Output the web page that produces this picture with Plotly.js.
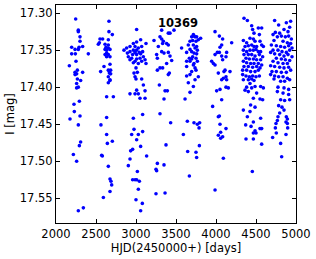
<!DOCTYPE html>
<html>
<head>
<meta charset="utf-8">
<script src="https://cdn.plot.ly/plotly-3.0.1.min.js"></script>
<style>
html,body{margin:0;padding:0;background:#fff;}
#chart{width:316px;height:259px;}
</style>
</head>
<body>
<div id="chart"></div>
<script>
// Light curve of star 10369: HJD-2450000 (days) and I magnitude, per observing season
var s1x = [2246,2279,2279,2300,2300,2196,2238,2279,2288,2333,2404,2196,2242,2250,2167,2267,2333,2238,2258,2238,2267,2308,2258,2279,2258,2292,2225,2229,2300,2175,2279,2308,2292,2217,2258,2279,2342];
var s1y = [17.308,17.323,17.325,17.332,17.338,17.346,17.349,17.349,17.346,17.345,17.355,17.355,17.355,17.365,17.371,17.377,17.380,17.380,17.382,17.383,17.389,17.391,17.395,17.400,17.401,17.419,17.423,17.433,17.439,17.443,17.451,17.474,17.479,17.491,17.500,17.567,17.563];

var s2x = [2662,2662,2704,2583,2550,2654,2542,2529,2613,2654,2625,2613,2654,2675,2633,2633,2613,2654,2633,2675,2675,2600,2654,2683,2558,2667,2667,2683,2654,2675,2675,2654,2633,2717,2633,2562,2633,2704,2642,2571,2579,2654,2675,2687,2696,2675,2592];
var s2y = [17.311,17.325,17.329,17.335,17.335,17.336,17.340,17.342,17.342,17.343,17.346,17.349,17.347,17.349,17.350,17.354,17.356,17.356,17.359,17.359,17.369,17.372,17.377,17.377,17.379,17.379,17.381,17.382,17.386,17.390,17.391,17.394,17.413,17.413,17.441,17.451,17.464,17.473,17.476,17.492,17.493,17.507,17.524,17.527,17.532,17.541,17.549];

var s3x = [3008,3058,2967,3125,3008,2883,2850,2925,2988,3029,3071,2967,3008,2892,2925,2988,3042,3083,2958,3008,3058,2904,2946,3008,3050,3092,2925,2988,3071,3113,2967,3029,3125,3000,2975,3017,2988,3000,3071,3092,3008,3113,2925,2988,3029,3050,3113,3083,2967,2975,2946,3029,3083,3008,2958,2933,3058,3133,2925,2904,3017,2958,2988,3008,3042,3029,3000,3079,3058];
var s3y = [17.322,17.336,17.341,17.341,17.339,17.347,17.350,17.345,17.345,17.347,17.345,17.350,17.350,17.354,17.352,17.353,17.353,17.352,17.356,17.356,17.355,17.359,17.361,17.362,17.361,17.359,17.363,17.365,17.365,17.363,17.367,17.368,17.368,17.374,17.381,17.380,17.386,17.389,17.389,17.397,17.404,17.405,17.409,17.409,17.409,17.415,17.415,17.437,17.442,17.457,17.464,17.464,17.460,17.471,17.484,17.486,17.480,17.493,17.497,17.506,17.514,17.525,17.525,17.525,17.527,17.538,17.552,17.557,17.567];

var s4x = [3321,3475,3425,3404,3300,3225,3321,3342,3383,3333,3404,3279,3321,3258,3350,3404,3425,3267,3446,3383,3300,3267,3333,3417,3404,3292,3363,3392,3350,3300,3433,3375,3267,3250,3258,3350,3250,3363];
var s4y = [17.323,17.323,17.327,17.327,17.332,17.337,17.335,17.338,17.341,17.341,17.343,17.345,17.352,17.356,17.354,17.353,17.358,17.361,17.364,17.368,17.374,17.377,17.374,17.381,17.383,17.397,17.405,17.405,17.416,17.436,17.448,17.478,17.503,17.511,17.513,17.505,17.544,17.543];

var s5x = [3808,3570,3717,3725,3738,3696,3758,3675,3708,3750,3779,3654,3717,3758,3675,3738,3767,3633,3696,3725,3758,3708,3667,3750,3696,3633,3675,3725,3767,3717,3633,3738,3696,3750,3633,3675,3738,3779,3654,3717,3675,3613,3642,3725,3767,3796,3788,3592,3646,3750,3758,3792,3667];
var s5y = [17.334,17.347,17.329,17.331,17.332,17.332,17.332,17.338,17.337,17.338,17.336,17.343,17.343,17.345,17.349,17.347,17.350,17.353,17.352,17.354,17.355,17.359,17.361,17.361,17.362,17.365,17.365,17.368,17.365,17.370,17.372,17.374,17.379,17.377,17.385,17.383,17.390,17.386,17.394,17.399,17.407,17.416,17.446,17.448,17.450,17.448,17.455,17.464,17.487,17.488,17.495,17.479,17.520];

var s6x = [3988,4042,4083,4196,4071,4050,4017,4042,4133,3988,4071,4083,4125,3946,3967,3988,4029,4113,4100,4175,4092,4125,4071,4133,4050,4008,4125,4154,4071,3958,4029,4042,4050,4029,4058,4083,4058,4125,4092,3988];
var s6y = [17.325,17.331,17.335,17.340,17.343,17.346,17.353,17.353,17.353,17.356,17.358,17.363,17.359,17.365,17.368,17.370,17.381,17.377,17.379,17.379,17.388,17.386,17.390,17.390,17.403,17.405,17.400,17.401,17.417,17.426,17.440,17.439,17.450,17.465,17.461,17.467,17.469,17.456,17.496,17.539];

var s7x = [4350,4392,4446,4458,4529,4571,4475,4542,4342,4383,4425,4467,4488,4550,4571,4363,4404,4446,4475,4508,4592,4342,4383,4425,4467,4500,4529,4558,4350,4404,4446,4488,4542,4583,4375,4417,4467,4508,4558,4342,4383,4433,4475,4529,4571,4350,4404,4458,4508,4550,4333,4383,4433,4488,4529,4333,4375,4417,4458,4500,4542,4342,4404,4446,4475,4425,4383,4363,4446,4488,4558,4404,4508,4592,4467,4550,4583,4433,4488,4425,4342,4392,4558,4371,4375,4438,4467,4467,4488,4500,4467,4550,4571,4571,4454];
var s7y = [17.307,17.310,17.317,17.322,17.320,17.320,17.327,17.329,17.337,17.340,17.334,17.335,17.338,17.338,17.343,17.345,17.344,17.343,17.345,17.345,17.345,17.350,17.352,17.350,17.350,17.349,17.352,17.352,17.356,17.356,17.356,17.358,17.356,17.359,17.361,17.362,17.362,17.363,17.363,17.365,17.367,17.368,17.368,17.368,17.370,17.372,17.372,17.373,17.372,17.374,17.377,17.377,17.379,17.379,17.377,17.383,17.385,17.386,17.385,17.386,17.385,17.390,17.390,17.389,17.391,17.395,17.400,17.404,17.401,17.399,17.399,17.406,17.408,17.401,17.415,17.416,17.417,17.424,17.427,17.433,17.431,17.440,17.442,17.451,17.470,17.453,17.447,17.462,17.459,17.462,17.470,17.456,17.456,17.477,17.514];

var s8x = [4733,4783,4879,4933,4850,4921,4900,4742,4796,4713,4767,4817,4867,4908,4942,4725,4838,4892,4933,4692,4754,4808,4858,4908,4950,4713,4775,4825,4879,4921,4683,4733,4796,4850,4900,4950,4754,4817,4867,4921,4713,4775,4838,4892,4683,4733,4796,4850,4908,4700,4754,4817,4879,4933,4683,4733,4783,4838,4892,4725,4808,4858,4921,4775,4850,4908,4767,4838,4908,4808,4858,4921,4783,4825,4850,4796,4775,4879,4892,4767,4708,4742,4750,4754,4808,4821,4875,4896,4875,4892];
var s8y = [17.310,17.316,17.313,17.311,17.322,17.319,17.325,17.326,17.327,17.329,17.332,17.331,17.332,17.331,17.335,17.337,17.338,17.340,17.341,17.343,17.344,17.345,17.346,17.344,17.347,17.350,17.350,17.352,17.353,17.350,17.353,17.355,17.356,17.358,17.356,17.359,17.361,17.362,17.363,17.364,17.365,17.367,17.368,17.368,17.371,17.372,17.373,17.374,17.373,17.379,17.379,17.380,17.380,17.377,17.383,17.385,17.386,17.386,17.388,17.389,17.392,17.392,17.390,17.400,17.401,17.403,17.406,17.408,17.410,17.417,17.418,17.417,17.425,17.427,17.431,17.435,17.440,17.440,17.443,17.445,17.468,17.455,17.449,17.462,17.476,17.494,17.464,17.455,17.447,17.449];

var xTicks = [2000,2500,3000,3500,4000,4500,5000];
var yTicks = [17.30,17.35,17.40,17.45,17.50,17.55];
var starId = "10369";

var hjd = [].concat(s1x,s2x,s3x,s4x,s5x,s6x,s7x,s8x);
var mag = [].concat(s1y,s2y,s3y,s4y,s5y,s6y,s7y,s8y);

var font = "DejaVu Sans, sans-serif";
var trace = {
  x: hjd, y: mag, type: "scatter", mode: "markers",
  marker: {color: "#0000ff", size: 3.6, line: {width: 0}},
  hoverinfo: "none"
};
var axisCommon = {
  showgrid: false, zeroline: false, showline: true, linecolor: "#000", linewidth: 1,
  mirror: "ticks", ticks: "inside", ticklen: 4, tickwidth: 1, tickcolor: "#000",
  tickfont: {family: font, size: 11.5, color: "#000"}
};
var layout = {
  width: 316, height: 259,
  margin: {l: 56, r: 20, t: 5, b: 36, pad: 0},
  paper_bgcolor: "#fff", plot_bgcolor: "#fff",
  showlegend: false,
  xaxis: Object.assign({}, axisCommon, {
    range: [2000, 5000], tickmode: "array", tickvals: xTicks,
    ticktext: xTicks.map(String),
    title: {text: "HJD(2450000+) [days]", font: {family: font, size: 11.5, color: "#000"}, standoff: 2}
  }),
  yaxis: Object.assign({}, axisCommon, {
    range: [17.5835, 17.289], tickmode: "array", tickvals: yTicks,
    ticktext: yTicks.map(function(v){return v.toFixed(2);}),
    title: {text: "I [mag]", font: {family: font, size: 11.5, color: "#000"}, standoff: 2}
  }),
  annotations: [{
    text: "<b>" + starId + "</b>", xref: "paper", yref: "paper",
    x: 0.51, y: 0.919, xanchor: "center", yanchor: "middle", showarrow: false,
    font: {family: font, size: 11.5, color: "#000"}
  }]
};
Plotly.newPlot("chart", [trace], layout, {staticPlot: true, displayModeBar: false});
</script>
</body>
</html>
